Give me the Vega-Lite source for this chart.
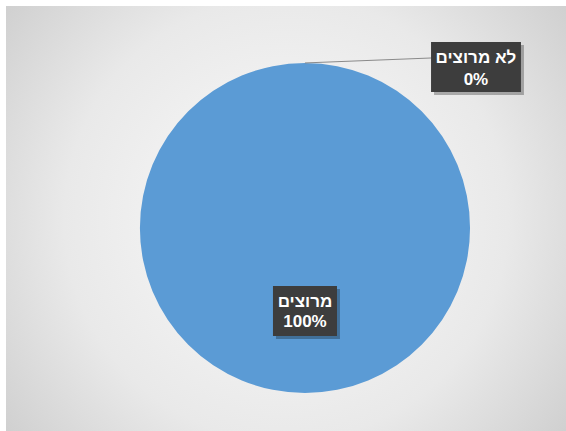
{
  "$schema": "https://vega.github.io/schema/vega-lite/v6.json",
  "width": 560,
  "height": 425,
  "autosize": {"type": "none"},
  "padding": {"left": 6, "top": 6, "right": 0, "bottom": 0},
  "background": "#ffffff",
  "config": {
    "view": {
      "stroke": null,
      "fill": {
        "gradient": "radial",
        "x1": 0.5, "y1": 0.5, "r1": 0,
        "x2": 0.5, "y2": 0.5, "r2": 0.72,
        "stops": [
          {"offset": 0, "color": "#fbfbfb"},
          {"offset": 0.55, "color": "#e9e9e9"},
          {"offset": 1, "color": "#c6c6c6"}
        ]
      }
    },
    "text": {"font": "Liberation Sans", "fontWeight": "bold", "fontSize": 17, "color": "#ffffff", "align": "center", "baseline": "middle"}
  },
  "data": {
    "values": [
      {"category": "מרוצים", "share": 1},
      {"category": "לא מרוצים", "share": 0}
    ]
  },
  "layer": [
    {
      "mark": {"type": "arc", "radius": 165},
      "encoding": {
        "theta": {"field": "share", "type": "quantitative", "stack": true},
        "color": {"field": "category", "type": "nominal", "scale": {"domain": ["מרוצים", "לא מרוצים"], "range": ["#5B9BD5", "#ED7D31"]}, "legend": null},
        "x": {"datum": 0, "type": "quantitative", "scale": {"domain": [-1.812, 1.582], "nice": false, "zero": false}, "axis": null},
        "y": {"datum": 0, "type": "quantitative", "scale": {"domain": [-1.23, 1.345], "nice": false, "zero": false}, "axis": null}
      }
    },
    {
      "transform": [{"filter": "datum.category == 'לא מרוצים'"}],
      "mark": {"type": "rule", "color": "#8a8a8a", "strokeWidth": 1},
      "encoding": {
        "x": {"datum": 0, "type": "quantitative", "scale": {"domain": [-1.812, 1.582], "nice": false, "zero": false}, "axis": null},
        "y": {"datum": 1.0, "type": "quantitative", "scale": {"domain": [-1.23, 1.345], "nice": false, "zero": false}, "axis": null},
        "x2": {"datum": 0.764},
        "y2": {"datum": 1.03}
      }
    },
    {
      "transform": [{"filter": "datum.category == 'לא מרוצים'"}],
      "mark": {"type": "rect", "color": "#000000", "opacity": 0.28, "xOffset": 3, "x2Offset": 3, "yOffset": 3, "y2Offset": 3},
      "encoding": {
        "x": {"datum": 0.764, "type": "quantitative", "scale": {"domain": [-1.812, 1.582], "nice": false, "zero": false}, "axis": null},
        "x2": {"datum": 1.309},
        "y": {"datum": 1.127, "type": "quantitative", "scale": {"domain": [-1.23, 1.345], "nice": false, "zero": false}, "axis": null},
        "y2": {"datum": 0.824}
      }
    },
    {
      "transform": [{"filter": "datum.category == 'לא מרוצים'"}],
      "mark": {"type": "rect", "color": "#3d3d3d"},
      "encoding": {
        "x": {"datum": 0.764, "type": "quantitative", "scale": {"domain": [-1.812, 1.582], "nice": false, "zero": false}, "axis": null},
        "x2": {"datum": 1.309},
        "y": {"datum": 1.127, "type": "quantitative", "scale": {"domain": [-1.23, 1.345], "nice": false, "zero": false}, "axis": null},
        "y2": {"datum": 0.824}
      }
    },
    {
      "transform": [{"filter": "datum.category == 'מרוצים'"}],
      "mark": {"type": "rect", "color": "#000000", "opacity": 0.28, "xOffset": 3, "x2Offset": 3, "yOffset": 3, "y2Offset": 3},
      "encoding": {
        "x": {"datum": -0.194, "type": "quantitative", "scale": {"domain": [-1.812, 1.582], "nice": false, "zero": false}, "axis": null},
        "x2": {"datum": 0.194},
        "y": {"datum": -0.352, "type": "quantitative", "scale": {"domain": [-1.23, 1.345], "nice": false, "zero": false}, "axis": null},
        "y2": {"datum": -0.655}
      }
    },
    {
      "transform": [{"filter": "datum.category == 'מרוצים'"}],
      "mark": {"type": "rect", "color": "#3d3d3d"},
      "encoding": {
        "x": {"datum": -0.194, "type": "quantitative", "scale": {"domain": [-1.812, 1.582], "nice": false, "zero": false}, "axis": null},
        "x2": {"datum": 0.194},
        "y": {"datum": -0.352, "type": "quantitative", "scale": {"domain": [-1.23, 1.345], "nice": false, "zero": false}, "axis": null},
        "y2": {"datum": -0.655}
      }
    },
    {
      "transform": [{"filter": "datum.category == 'לא מרוצים'"}],
      "mark": {"type": "text"},
      "encoding": {
        "text": {"field": "category", "type": "nominal"},
        "x": {"datum": 1.036, "type": "quantitative", "scale": {"domain": [-1.812, 1.582], "nice": false, "zero": false}, "axis": null},
        "y": {"datum": 1.03, "type": "quantitative", "scale": {"domain": [-1.23, 1.345], "nice": false, "zero": false}, "axis": null}
      }
    },
    {
      "transform": [{"filter": "datum.category == 'לא מרוצים'"}],
      "mark": {"type": "text"},
      "encoding": {
        "text": {"field": "share", "type": "quantitative", "format": ".0%"},
        "x": {"datum": 1.036, "type": "quantitative", "scale": {"domain": [-1.812, 1.582], "nice": false, "zero": false}, "axis": null},
        "y": {"datum": 0.897, "type": "quantitative", "scale": {"domain": [-1.23, 1.345], "nice": false, "zero": false}, "axis": null}
      }
    },
    {
      "transform": [{"filter": "datum.category == 'מרוצים'"}],
      "mark": {"type": "text"},
      "encoding": {
        "text": {"field": "category", "type": "nominal"},
        "x": {"datum": 0, "type": "quantitative", "scale": {"domain": [-1.812, 1.582], "nice": false, "zero": false}, "axis": null},
        "y": {"datum": -0.448, "type": "quantitative", "scale": {"domain": [-1.23, 1.345], "nice": false, "zero": false}, "axis": null}
      }
    },
    {
      "transform": [{"filter": "datum.category == 'מרוצים'"}],
      "mark": {"type": "text"},
      "encoding": {
        "text": {"field": "share", "type": "quantitative", "format": ".0%"},
        "x": {"datum": 0, "type": "quantitative", "scale": {"domain": [-1.812, 1.582], "nice": false, "zero": false}, "axis": null},
        "y": {"datum": -0.57, "type": "quantitative", "scale": {"domain": [-1.23, 1.345], "nice": false, "zero": false}, "axis": null}
      }
    }
  ]
}
